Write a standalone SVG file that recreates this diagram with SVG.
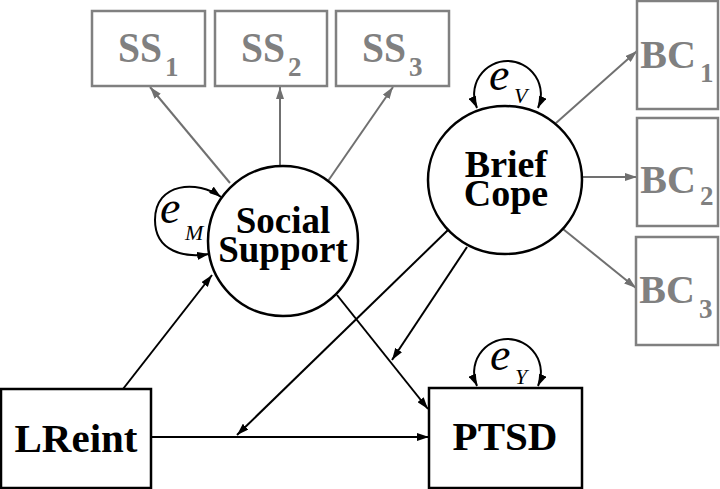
<svg xmlns="http://www.w3.org/2000/svg" width="720" height="489" viewBox="0 0 720 489">
<defs>
<style>
.lbl{font-family:"Liberation Serif","Times New Roman",serif;font-weight:bold;text-anchor:middle;fill:#000}
.g{fill:#808080}
.sub{font-family:"Liberation Serif","Times New Roman",serif;font-weight:bold;fill:#808080;font-size:27px}
.gbox{fill:#fff;stroke:#808080;stroke-width:2.5}
.bbox{fill:#fff;stroke:#000;stroke-width:2.5}
.circ{fill:#fff;stroke:#000;stroke-width:2.5}
.bl{stroke:#000;stroke-width:2;fill:none}
.gl{stroke:#707070;stroke-width:2;fill:none}
.err{font-family:"Liberation Serif","Times New Roman",serif;font-style:italic;fill:#000}
</style>
<marker id="ab" viewBox="0 0 12 8" refX="12" refY="4" markerWidth="12" markerHeight="8" markerUnits="userSpaceOnUse" orient="auto-start-reverse"><path d="M0,0 L12,4 L0,8 z" fill="#000"/></marker>
<marker id="ag" viewBox="0 0 12 8" refX="12" refY="4" markerWidth="12" markerHeight="8" markerUnits="userSpaceOnUse" orient="auto"><path d="M0,0 L12,4 L0,8 z" fill="#707070"/></marker>
</defs>
<rect width="720" height="489" fill="#fff"/>

<g id="connectors">
<line class="gl" x1="230" y1="183" x2="150" y2="87" marker-end="url(#ag)"/>
<line class="gl" x1="280" y1="166" x2="280" y2="87" marker-end="url(#ag)"/>
<line class="gl" x1="328" y1="181" x2="393" y2="87" marker-end="url(#ag)"/>
<line class="gl" x1="556" y1="123" x2="637" y2="51" marker-end="url(#ag)"/>
<line class="gl" x1="582" y1="177" x2="637" y2="177" marker-end="url(#ag)"/>
<line class="gl" x1="563" y1="229" x2="636" y2="288" marker-end="url(#ag)"/>
<line class="bl" x1="123" y1="389" x2="212" y2="275" marker-end="url(#ab)"/>
<line class="bl" x1="151" y1="437" x2="429" y2="437" marker-end="url(#ab)"/>
<line class="bl" x1="337" y1="295" x2="428" y2="409" marker-end="url(#ab)"/>
<line class="bl" x1="448" y1="230" x2="237" y2="435" marker-end="url(#ab)"/>
<line class="bl" x1="467" y1="247" x2="392" y2="360" marker-end="url(#ab)"/>
<path class="bl" d="M477,108 A33.4,33.4 0 1 1 538,108" marker-start="url(#ab)" marker-end="url(#ab)"/>
<path class="bl" d="M477,386 A33.4,33.4 0 1 1 538,386" marker-start="url(#ab)" marker-end="url(#ab)"/>
<path class="bl" d="M221,197 C198,180 155,182 155,220 C155,252 185,258 209,254" marker-start="url(#ab)" marker-end="url(#ab)"/>
</g>

<g id="ss1"><rect class="gbox" x="92" y="11" width="113" height="75"/><text class="lbl g" x="140" y="62" font-size="42" textLength="44" lengthAdjust="spacingAndGlyphs">SS</text><text class="sub" x="165" y="76">1</text></g>
<g id="ss2"><rect class="gbox" x="215" y="11" width="112" height="75"/><text class="lbl g" x="263" y="62" font-size="42" textLength="44" lengthAdjust="spacingAndGlyphs">SS</text><text class="sub" x="288" y="76">2</text></g>
<g id="ss3"><rect class="gbox" x="336" y="11" width="113" height="75"/><text class="lbl g" x="384" y="62" font-size="42" textLength="44" lengthAdjust="spacingAndGlyphs">SS</text><text class="sub" x="409" y="76">3</text></g>

<g id="bc1"><rect class="gbox" x="637" y="1" width="81" height="108"/><text class="lbl g" x="668" y="68" font-size="40">BC</text><text class="sub" x="700" y="82">1</text></g>
<g id="bc2"><rect class="gbox" x="637" y="118" width="81" height="108"/><text class="lbl g" x="668" y="193" font-size="40">BC</text><text class="sub" x="700" y="205">2</text></g>
<g id="bc3"><rect class="gbox" x="636" y="237" width="82" height="108"/><text class="lbl g" x="667" y="303" font-size="40">BC</text><text class="sub" x="699" y="318">3</text></g>

<g id="social-support"><circle class="circ" cx="283" cy="241" r="75"/><text class="lbl" x="283" y="233" font-size="37">Social</text><text class="lbl" x="283" y="262" font-size="37">Support</text></g>
<g id="brief-cope"><ellipse class="circ" cx="505" cy="180" rx="77" ry="74"/><text class="lbl" x="506" y="177" font-size="38">Brief</text><text class="lbl" x="506" y="206" font-size="38">Cope</text></g>

<g id="lreint"><rect class="bbox" x="1" y="389" width="150" height="99"/><text class="lbl" x="76" y="452" font-size="41">LReint</text></g>
<g id="ptsd"><rect class="bbox" x="429" y="388" width="153" height="100"/><text class="lbl" x="505" y="450" font-size="41">PTSD</text></g>

<g id="e-v"><text class="err" x="489" y="90" font-size="46">e</text><text class="err" x="514" y="103" font-size="22">V</text></g>
<g id="e-m"><text class="err" x="160" y="223" font-size="46">e</text><text class="err" x="185" y="240" font-size="22">M</text></g>
<g id="e-y"><text class="err" x="490" y="370" font-size="46">e</text><text class="err" x="515" y="384" font-size="22">Y</text></g>
</svg>
